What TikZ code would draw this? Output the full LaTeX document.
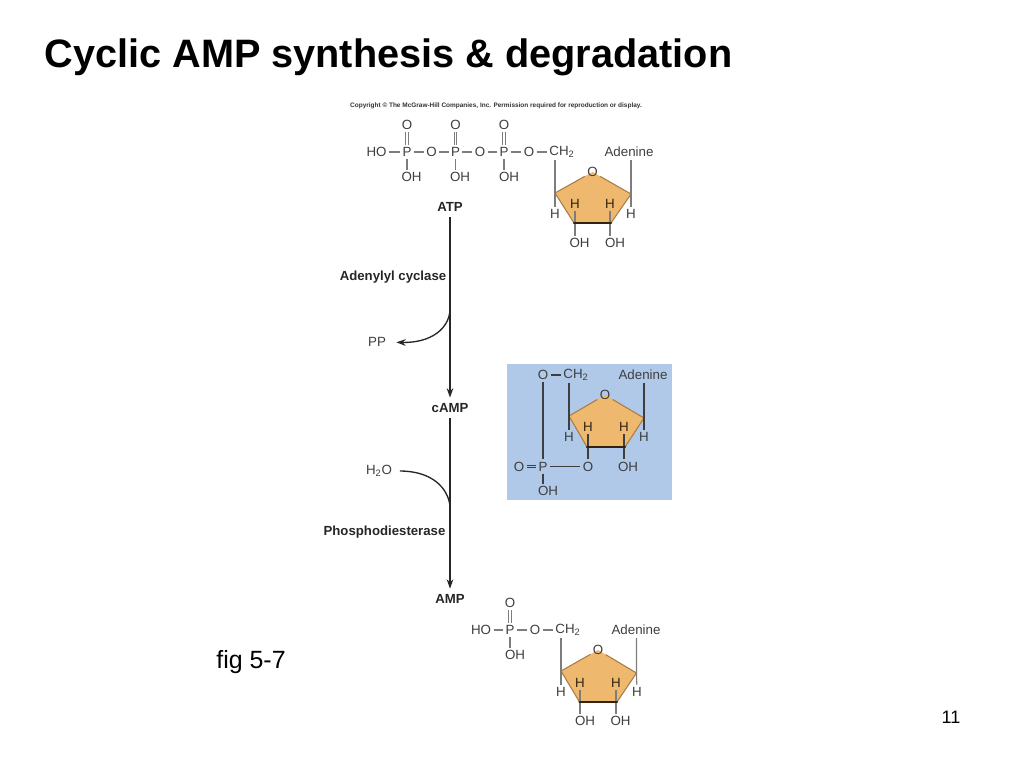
\documentclass[tikz,border=0pt]{standalone}
\usepackage{fontspec}
\setmainfont{Liberation Sans}
\usetikzlibrary{arrows.meta}
\definecolor{atomgray}{RGB}{62,62,62}
\definecolor{bondgray}{RGB}{125,125,125}
\definecolor{ringfill}{RGB}{238,184,110}
\definecolor{ringedge}{RGB}{170,125,70}
\definecolor{ringbase}{RGB}{50,35,15}
\definecolor{panelblue}{RGB}{176,201,232}
\tikzset{every picture/.style={line width=0.75pt}}
\tikzset{
  atom/.style={inner sep=1.5pt,text=atomgray,font=\fontsize{10}{12}\selectfont},
  innerh/.style={atom,text=ringbase},
  step label/.style={inner sep=4pt,text=black!85,font=\fontsize{9.9}{12}\bfseries\selectfont},
  bond/.style={draw=bondgray,line width=0.8pt},
  dbond/.style={draw=bondgray,line width=0.6pt,double=white,double distance=1.3pt},
  edge/.style={draw=ringedge,line width=0.8pt},
  base/.style={draw=ringbase,line width=1.8pt,line cap=round},
  flow/.style={draw=black!85,line width=1pt,-{Stealth[length=7pt,width=5pt]}},
  feed/.style={draw=black!85,line width=1pt}
}
\begin{document}
\begin{tikzpicture}[x=0.75pt,y=0.75pt,yscale=-1,xscale=1]
\useasboundingbox (0,0) rectangle (1024,768);

% Text Node
\draw (388.5,57) node (title) [anchor=center,inner sep=0pt,font=\fontsize{29.75}{34}\bfseries\selectfont] {Cyclic AMP synthesis \& degradation};
\draw (496,106) node (copyright) [anchor=center,inner sep=0pt,text=black!80,font=\fontsize{4.85}{6}\bfseries\selectfont] {Copyright © The McGraw-Hill Companies, Inc. Permission required for reproduction or display.};
\draw (251,662) node (figlabel) [inner sep=0pt,font=\fontsize{18.7}{22}\selectfont] {fig 5-7};
\draw (951,717) node (pagenum) [inner sep=0pt,font=\fontsize{13.5}{16}\selectfont] {11};

% Pathway labels
\draw (450,207) node (atp) [step label] {ATP};
\draw (450,408) node (camp) [step label] {cAMP};
\draw (450,599) node (amp) [step label] {AMP};
\draw (393,277) node (cyclase) [step label] {Adenylyl cyclase};
\draw (384.5,532) node (pde) [step label] {Phosphodiesterase};
\draw (377,342) node (pp) [atom] {PP};
\draw (379,471) node (water) [atom] {H\textsubscript{2}O};
\coordinate (ppjoin) at (450,310);
\coordinate (waterjoin) at (450,506);

%Straight Lines
\draw [flow] (atp) -- (camp);
\draw [flow] (camp) -- (amp);
%Curves
\draw [flow,shorten >=6pt] (ppjoin) .. controls (449,328) and (432,343) .. (pp);
\draw [feed,shorten >=4pt] (waterjoin) .. controls (448,488) and (432,471) .. (water);

%%%% ATP
\coordinate (al) at (555,193);
\coordinate (ar) at (631,194);
\coordinate (abl) at (574,223);
\coordinate (abr) at (611,223);
\coordinate (aapex) at (592.5,172);
\coordinate (achd) at (555,160);
\coordinate (aaded) at (631,160);
%Ring
\fill [ringfill] (al) -- (aapex) -- (ar) -- (abr) -- (abl) -- cycle;
% Text Node
\draw (376.5,152) node (ahoa) [atom] {HO};
\draw (407,152) node (apa) [atom] {P};
\draw (431.5,152) node (aoa) [atom] {O};
\draw (455.5,152) node (apb) [atom] {P};
\draw (480,152) node (aob) [atom] {O};
\draw (504,152) node (apc) [atom] {P};
\draw (529,152) node (aoc) [atom] {O};
\draw (562,152) node (ach) [atom] {CH\textsubscript{2}};
\draw (629,152) node (aade) [atom] {Adenine};
\draw (407,125) node (atopa) [atom] {O};
\draw (455.5,125) node (atopb) [atom] {O};
\draw (504,125) node (atopc) [atom] {O};
\draw (411.5,177) node (aoha) [atom] {OH};
\draw (460,177) node (aohb) [atom] {OH};
\draw (509,177) node (aohc) [atom] {OH};
\draw (aapex) node (aring) [atom] {O};
\draw (555,214) node (ahl) [atom] {H};
\draw (631,214) node (ahr) [atom] {H};
\draw (575,204) node (ahil) [innerh] {H};
\draw (610,204) node (ahir) [innerh] {H};
\draw (579.5,243) node (aohl) [atom] {OH};
\draw (615,243) node (aohr) [atom] {OH};
\draw [edge] (al) -- (aring) -- (ar);
\draw [edge] (al) -- (abl);
\draw [edge] (ar) -- (abr);
%Straight Lines
\draw [bond] (ahoa) -- (apa);
\draw [bond] (apa) -- (aoa);
\draw [bond] (aoa) -- (apb);
\draw [bond] (apb) -- (aob);
\draw [bond] (aob) -- (apc);
\draw [bond] (apc) -- (aoc);
\draw [bond] (aoc) -- (ach);
\draw [dbond] (apa) -- (atopa);
\draw [dbond] (apb) -- (atopb);
\draw [dbond] (apc) -- (atopc);
\draw [bond] (apa) -- (apa |- aoha.north);
\draw [bond] (apb) -- (apb |- aohb.north);
\draw [bond] (apc) -- (apc |- aohc.north);
\draw [bond] (achd) -- (al) -- (ahl);
\draw [bond] (aaded) -- (ar) -- (ahr);
\draw [bond] (ahil) -- (ahil |- abl) -- (ahil |- aohl.north);
\draw [bond] (ahir) -- (ahir |- abr) -- (ahir |- aohr.north);
\draw [base] (abl) -- (abr);

%%%% cAMP
\fill [panelblue] (507,364) rectangle (672,500);
\coordinate (cl) at (569,416);
\coordinate (cr) at (644,418);
\coordinate (cbl) at (587,447);
\coordinate (cbr) at (625,447);
\coordinate (capex) at (605,395);
\coordinate (cchd) at (569,383);
\coordinate (caded) at (644,383);
%Ring
\fill [ringfill] (cl) -- (capex) -- (cr) -- (cbr) -- (cbl) -- cycle;
% Text Node
\draw (543,375) node (coa) [atom] {O};
\draw (576,375) node (cch) [atom] {CH\textsubscript{2}};
\draw (643,375) node (cade) [atom] {Adenine};
\draw (capex) node (cring) [atom] {O};
\draw (569,437) node (chl) [atom] {H};
\draw (644,437) node (chr) [atom] {H};
\draw (588,427) node (chil) [innerh] {H};
\draw (624,427) node (chir) [innerh] {H};
\draw (588,466.5) node (cob) [atom] {O};
\draw (628,466.5) node (coh) [atom] {OH};
\draw (519,466.5) node (cdo) [atom] {O};
\draw (543,466.5) node (cp) [atom] {P};
\draw (548,491) node (cpoh) [atom] {OH};
\draw [edge] (cl) -- (cring) -- (cr);
\draw [edge] (cl) -- (cbl);
\draw [edge] (cr) -- (cbr);
%Straight Lines
\draw [bond,draw=atomgray] (coa) -- (cch);
\draw [bond,draw=atomgray] (coa) -- (cp);
\draw [bond,draw=atomgray] (cp) -- (cob);
\draw [bond,draw=atomgray] (cp) -- (cp |- cpoh.north);
\draw [dbond,draw=atomgray,double=panelblue] (cdo) -- (cp);
\draw [bond,draw=atomgray] (cchd) -- (cl) -- (chl);
\draw [bond,draw=atomgray] (caded) -- (cr) -- (chr);
\draw [bond,draw=atomgray] (chil) -- (cob |- cbl) -- (cob);
\draw [bond,draw=atomgray] (chir) -- (chir |- cbr) -- (chir |- coh.north);
\draw [base] (cbl) -- (cbr);

%%%% AMP
\coordinate (ml) at (561,671);
\coordinate (mr) at (636.5,673);
\coordinate (mbl) at (579.5,702);
\coordinate (mbr) at (617,702);
\coordinate (mapex) at (598,650);
\coordinate (mchd) at (561,638);
\coordinate (maded) at (636.5,638);
%Ring
\fill [ringfill] (ml) -- (mapex) -- (mr) -- (mbr) -- (mbl) -- cycle;
% Text Node
\draw (481,630) node (mhoa) [atom] {HO};
\draw (510,630) node (mp) [atom] {P};
\draw (535,630) node (moa) [atom] {O};
\draw (568,630) node (mch) [atom] {CH\textsubscript{2}};
\draw (636,630) node (made) [atom] {Adenine};
\draw (510,603) node (mtop) [atom] {O};
\draw (515,655) node (moh) [atom] {OH};
\draw (mapex) node (mring) [atom] {O};
\draw (561,692) node (mhl) [atom] {H};
\draw (637,692) node (mhr) [atom] {H};
\draw (580,683) node (mhil) [innerh] {H};
\draw (616,683) node (mhir) [innerh] {H};
\draw (585,721) node (mohl) [atom] {OH};
\draw (620.5,721) node (mohr) [atom] {OH};
\draw [edge] (ml) -- (mring) -- (mr);
\draw [edge] (ml) -- (mbl);
\draw [edge] (mr) -- (mbr);
%Straight Lines
\draw [bond] (mhoa) -- (mp);
\draw [bond] (mp) -- (moa);
\draw [bond] (moa) -- (mch);
\draw [dbond] (mp) -- (mtop);
\draw [bond] (mp) -- (mp |- moh.north);
\draw [bond] (mchd) -- (ml) -- (mhl);
\draw [bond] (maded) -- (mr) -- (mhr);
\draw [bond] (mhil) -- (mhil |- mbl) -- (mhil |- mohl.north);
\draw [bond] (mhir) -- (mhir |- mbr) -- (mhir |- mohr.north);
\draw [base] (mbl) -- (mbr);

\end{tikzpicture}
\end{document}
